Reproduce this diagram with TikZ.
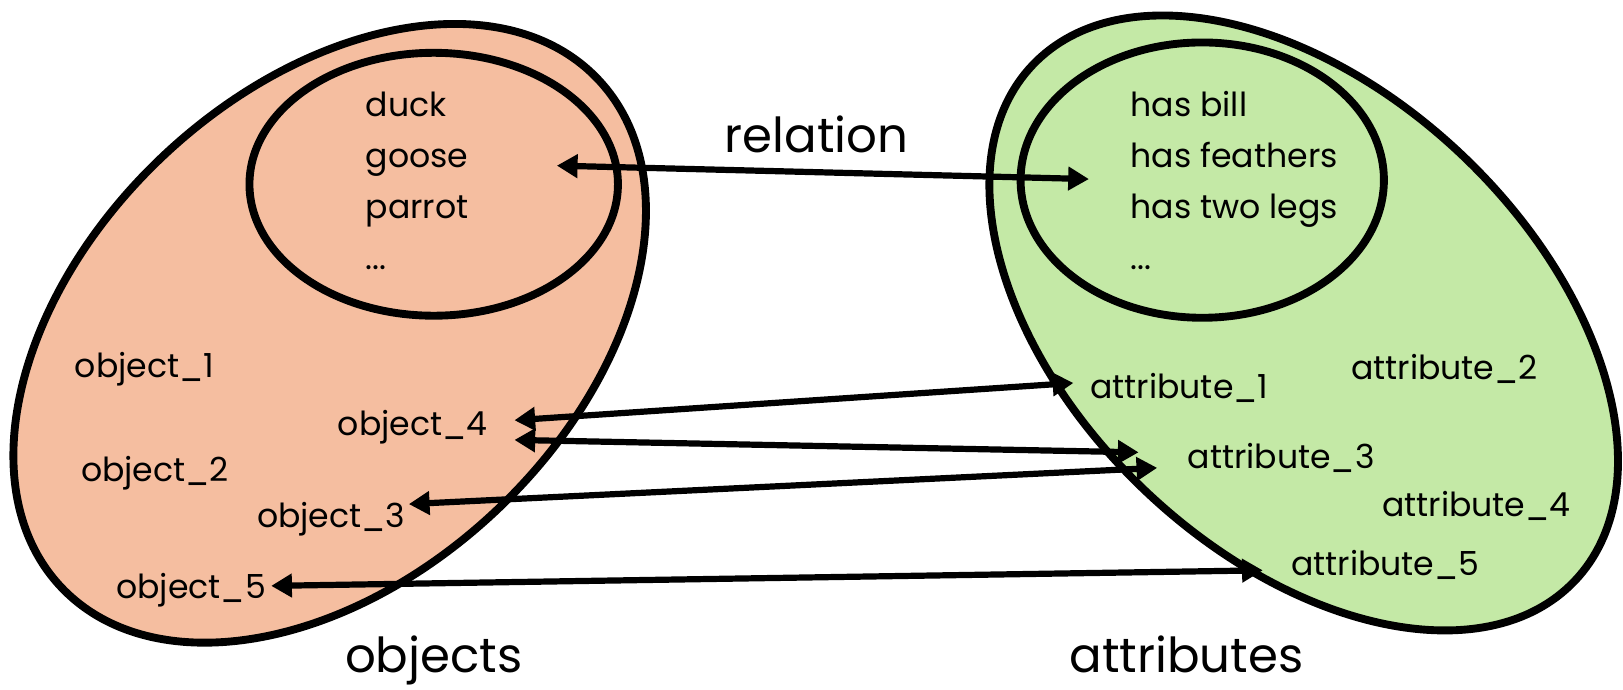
\documentclass[tikz,border=0pt]{standalone}
\usepackage{fontspec}
\setmainfont{Poppins}
\usetikzlibrary{shapes.geometric,arrows.meta}
\definecolor{objfill}{HTML}{F5BEA0}
\definecolor{attfill}{HTML}{C4E9A6}
\begin{document}
\begin{tikzpicture}[x=0.5pt,y=-0.5pt,
  setline/.style={draw=black,line width=3.8pt,ellipse,inner sep=0pt},
  item/.style={anchor=base west,inner sep=0pt,font=\fontsize{16}{19}\selectfont},
  title/.style={anchor=base west,inner sep=0pt,font=\fontsize{23.3}{27}\selectfont},
  link/.style={line width=3pt,{Triangle[length=10pt,width=11pt]}-{Triangle[length=10pt,width=11pt]}}]
\useasboundingbox (0,0) rectangle (1568,666);

% the two sets and their subsets
\node[setline,fill=objfill,minimum width=357pt,minimum height=235pt,rotate=43.4] (objset) at (318.5,322) {};
\node[setline,fill=attfill,minimum width=361.5pt,minimum height=223pt,rotate=-43.6] (attset) at (1259.5,312) {};
\node[setline,minimum width=178pt,minimum height=127pt] (objsub) at (419,178) {};
\node[setline,minimum width=175.5pt,minimum height=133pt] (attsub) at (1161.5,174) {};

% subset members
\node[item] (duck) at (353,113) {duck};
\node[item] (goose) at (353,162) {goose};
\node[item] (parrot) at (353,211) {parrot};
\node[item] (odots) at (353,260) {...};
\node[item] (bill) at (1092,113) {has bill};
\node[item] (feathers) at (1092,162) {has feathers};
\node[item] (legs) at (1092,211) {has two legs};
\node[item] (adots) at (1092,260) {...};

% objects
\node[item] (o1) at (72,365) {object\_1};
\node[item] (o4) at (326,421) {object\_4};
\node[item] (o2) at (78,465) {object\_2};
\node[item] (o3) at (248,510) {object\_3};
\node[item] (o5) at (112,578) {object\_5};

% attributes
\node[item] (a1) at (1053,385) {attribute\_1};
\node[item] (a2) at (1305,367) {attribute\_2};
\node[item] (a3) at (1147,453) {attribute\_3};
\node[item] (a4) at (1335,499) {attribute\_4};
\node[item] (a5) at (1247,556) {attribute\_5};

% titles
\node[title] (rel) at (700,147) {relation};
\node[title] (objt) at (333,650) {objects};
\node[title] (attt) at (1033,650) {attributes};

% arrow end points
\coordinate (rL) at (538,160);
\coordinate (rR) at (1052,173);
\coordinate (o4a) at (497,406);
\coordinate (a1a) at (1037,370);
\coordinate (o4b) at (497,425);
\coordinate (a3a) at (1100,437);
\coordinate (o3a) at (395,487);
\coordinate (a3b) at (1118,452);
\coordinate (o5a) at (262,566);
\coordinate (a5a) at (1220,551);

\draw[link] (rL) -- (rR);
\draw[link] (o4a) -- (a1a);
\draw[link] (o4b) -- (a3a);
\draw[link] (o3a) -- (a3b);
\draw[link] (o5a) -- (a5a);
\end{tikzpicture}
\end{document}
